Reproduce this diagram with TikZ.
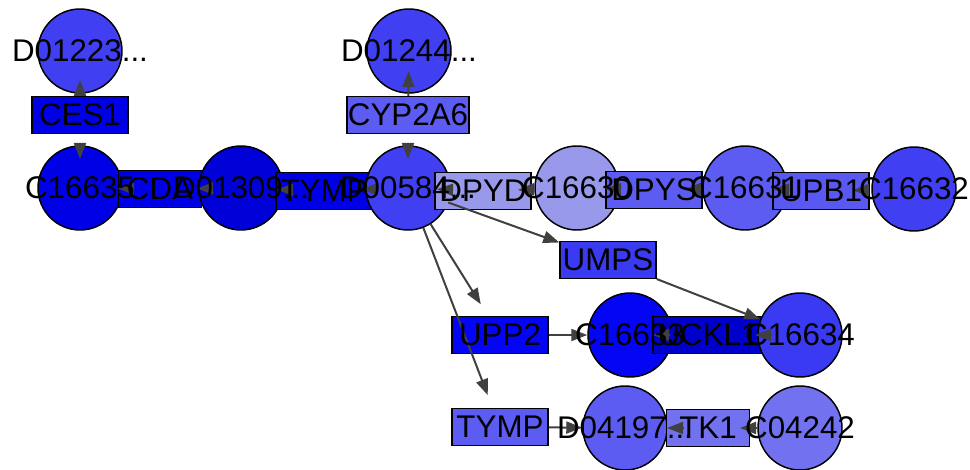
\documentclass[tikz,border=0pt]{standalone}
\usepackage{fontspec}
\setmainfont{Liberation Sans}
\usetikzlibrary{arrows.meta}

\definecolor{edgegray}{HTML}{404040}
\definecolor{bDeep}{HTML}{0000D8}
\definecolor{bFull}{HTML}{0000E6}
\definecolor{bBright}{HTML}{0505F5}
\definecolor{bMid}{HTML}{4040F2}
\definecolor{bUmps}{HTML}{3A3AF2}
\definecolor{bSoft}{HTML}{5C5CF2}
\definecolor{bPale}{HTML}{7272F0}
\definecolor{bLav}{HTML}{9999EC}
\definecolor{bUckl}{HTML}{0000CC}

\begin{document}
\begin{tikzpicture}[x=0.75pt, y=-0.75pt,
  cpd/.style={circle, draw, line width=1.1pt, minimum size=63pt, inner sep=0pt},
  gene/.style={rectangle, draw, line width=1.1pt, minimum width=72pt, minimum height=28pt, inner sep=0pt},
  lbl/.style={font=\fontsize{23.5}{28}\selectfont, inner sep=0pt},
  arr/.style={-{Triangle[length=12pt, width=9pt]}, line width=1.5pt, edgegray},
  hop/.style 2 args={arr, shorten <=#1, shorten >=#2},
]
  \useasboundingbox (0,0) rectangle (970,470);

  % shapes
  \node[cpd, fill=bMid] (d01223) at (80,51) {};
  \node[gene, fill=bFull] (ces1) at (80,115) {};
  \node[cpd, fill=bFull] (c16635) at (80,188) {};
  \node[gene, fill=bFull, minimum width=62pt] (cda) at (160,189) {};
  \node[cpd, fill=bDeep] (d01309) at (241,188) {};
  \node[gene, fill=bFull] (tympA) at (324,191) {};
  \node[cpd, fill=bMid] (d00584) at (408,188) {};
  \node[gene, fill=bLav] (dpyd) at (483,191) {};
  \node[cpd, fill=bLav] (c16630) at (577,188) {};
  \node[gene, fill=bSoft] (dpys) at (654,190) {};
  \node[cpd, fill=bSoft] (c16631) at (745,188) {};
  \node[gene, fill=bSoft!90!bMid] (upb1) at (821,191) {};
  \node[cpd, fill=bMid] (c16632) at (914,189) {};

  \node[cpd, fill=bMid] (d01244) at (409,51) {};
  \node[gene, fill=bSoft, minimum width=91.5pt] (cyp2a6) at (408,115) {};

  \node[gene, fill=bUmps] (umps) at (608,260) {};
  \node[gene, fill=bBright] (upp2) at (500,335) {};
  \node[cpd, fill=bBright] (c16633) at (630,335) {};
  \node[gene, fill=bUckl, minimum width=82.5pt] (uckl1) at (708,335) {};
  \node[cpd, fill=bUmps] (c16634) at (800,335) {};

  \node[gene, fill=bSoft] (tympB) at (500,427) {};
  \node[cpd, fill=bSoft] (d04197) at (625,428) {};
  \node[gene, fill=bPale, minimum width=62pt] (tk1) at (708,428) {};
  \node[cpd, fill=bPale] (c04242) at (800,428) {};

  % connectors
  \draw[hop={14.25pt}{21.75pt}] (ces1.center) -- (d01223.center);
  \draw[hop={21pt}{21.75pt}] (ces1.center) -- (c16635.center);
  \draw[hop={14.25pt}{15pt}] (cyp2a6.center) -- (d01244.center);
  \draw[hop={21pt}{21.75pt}] (cyp2a6.center) -- (d00584.center);

  \draw[hop={19.5pt}{28.5pt}] (cda.center) -- (c16635.center);
  \draw[hop={21pt}{27.75pt}] (d01309.center) -- (cda.center);
  \draw[hop={23.25pt}{27pt}] (tympA.center) -- (d01309.center);
  \draw[hop={22.5pt}{28.5pt}] (d00584.center) -- (tympA.center);
  \draw[hop={22.5pt}{21.75pt}] (dpyd.center) -- (d00584.center);
  \draw[hop={32.25pt}{26.25pt}] (c16630.center) -- (dpyd.center);
  \draw[hop={24.75pt}{21pt}] (dpys.center) -- (c16630.center);
  \draw[hop={33pt}{23.25pt}] (c16631.center) -- (dpys.center);
  \draw[hop={24pt}{21pt}] (upb1.center) -- (c16631.center);
  \draw[hop={33.75pt}{24pt}] (c16632.center) -- (upb1.center);

  \draw[arr] (d00584) -- (umps);
  \draw[arr, shorten >=10pt] (d00584) -- (upp2);
  \draw[arr, shorten >=10pt] (d00584) -- (tympB);
  \draw[arr] (umps) -- (c16634);

  \draw[arr] (upp2) -- (c16633);
  \draw[hop={29.25pt}{17.25pt}] (uckl1.center) -- (c16633.center);
  \draw[hop={21.75pt}{35.25pt}] (c16634.center) -- (uckl1.center);

  \draw[arr] (tympB) -- (d04197);
  \draw[hop={18.75pt}{31.5pt}] (tk1.center) -- (d04197.center);
  \draw[hop={33pt}{24pt}] (c04242.center) -- (tk1.center);

  % labels
  \node[lbl] (d01223-t) at (d01223) {D01223...};
  \node[lbl] (ces1-t) at (ces1) {CES1};
  \node[lbl] (c16635-t) at (c16635) {C16635};
  \node[lbl] (cda-t) at (cda) {CDA};
  \node[lbl] (d01309-t) at (d01309) {D01309...};
  \node[lbl] (tympA-t) at (tympA) {TYMP};
  \node[lbl] (d00584-t) at (d00584) {D00584...};
  \node[lbl] (dpyd-t) at (dpyd) {DPYD};
  \node[lbl] (c16630-t) at (c16630) {C16630};
  \node[lbl] (dpys-t) at (dpys) {DPYS};
  \node[lbl] (c16631-t) at (c16631) {C16631};
  \node[lbl] (upb1-t) at (upb1) {UPB1};
  \node[lbl] (c16632-t) at (c16632) {C16632};
  \node[lbl] (d01244-t) at (d01244) {D01244...};
  \node[lbl] (cyp2a6-t) at (cyp2a6) {CYP2A6};
  \node[lbl] (umps-t) at (umps) {UMPS};
  \node[lbl] (upp2-t) at (upp2) {UPP2};
  \node[lbl] (c16633-t) at (c16633) {C16633};
  \node[lbl] (uckl1-t) at (uckl1) {UCKL1};
  \node[lbl] (c16634-t) at (c16634) {C16634};
  \node[lbl] (tympB-t) at (tympB) {TYMP};
  \node[lbl] (d04197-t) at (d04197) {D04197...};
  \node[lbl] (tk1-t) at (tk1) {TK1};
  \node[lbl] (c04242-t) at (c04242) {C04242};
\end{tikzpicture}
\end{document}
